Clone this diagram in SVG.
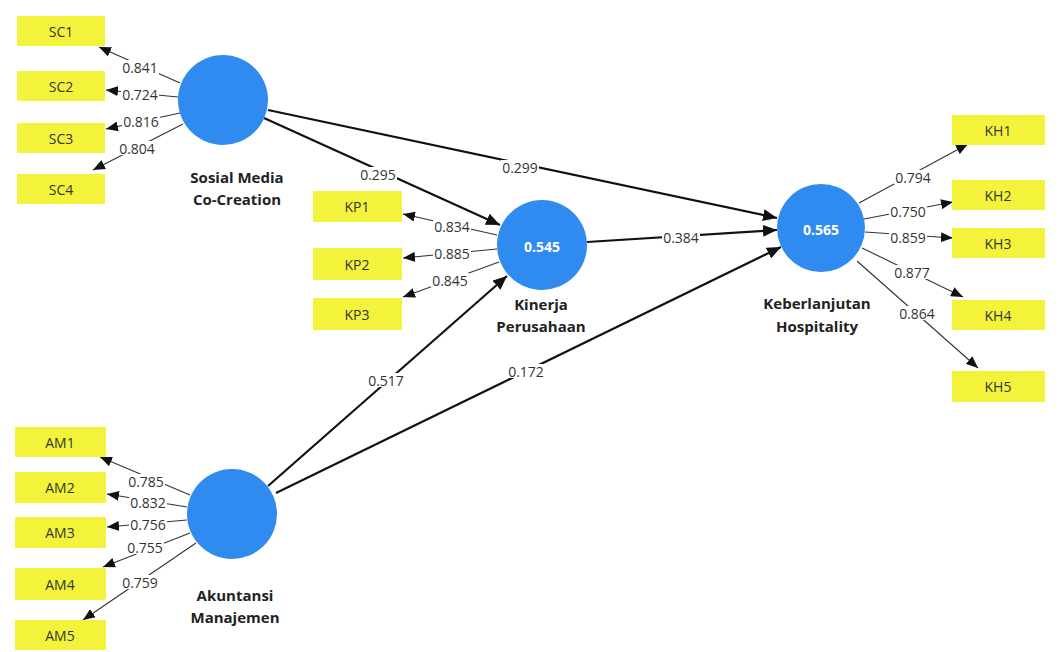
<svg xmlns="http://www.w3.org/2000/svg" width="1061" height="652" viewBox="0 0 1061 652">
<defs>
<marker id="ah" viewBox="0 0 12 10" refX="12" refY="5" markerWidth="12" markerHeight="10" markerUnits="userSpaceOnUse" orient="auto"><path d="M0,0 L12,5 L0,10 z" fill="#111"/></marker>
<marker id="ahb" viewBox="0 0 14 12" refX="14" refY="6" markerWidth="14" markerHeight="12" markerUnits="userSpaceOnUse" orient="auto"><path d="M0,0 L14,6 L0,12 z" fill="#111"/></marker>
<style>
.ind rect{fill:#F3F33C}
.ind text{font-family:"Open Sans","Noto Sans",sans-serif;font-size:14px;fill:#333;text-anchor:middle;dominant-baseline:central}
.lv circle{fill:#2F8BF0}
.lv .name{font-family:"Open Sans","Noto Sans",sans-serif;font-size:15px;font-weight:bold;fill:#222;text-anchor:middle}
.lv .r2{font-family:"Open Sans","Noto Sans",sans-serif;font-size:14px;font-weight:bold;fill:#fff;text-anchor:middle;dominant-baseline:central}
.ld{stroke:#333;stroke-width:1.1;fill:none;marker-end:url(#ah)}
.pt{stroke:#111;stroke-width:2.2;fill:none;marker-end:url(#ahb)}
.bg{fill:#fff}
.lb{font-family:"Open Sans","Noto Sans",sans-serif;font-size:14px;fill:#333;text-anchor:middle;dominant-baseline:central}
</style>
</defs>
<rect width="1061" height="652" fill="#fff"/>
<g id="connectors">
<line class="ld" x1="180" y1="83" x2="99" y2="47"/>
<line class="ld" x1="178" y1="97" x2="106" y2="90"/>
<line class="ld" x1="180" y1="113" x2="106" y2="129"/>
<line class="ld" x1="183" y1="124" x2="93" y2="170"/>
<line class="ld" x1="497" y1="235" x2="403" y2="214"/>
<line class="ld" x1="497" y1="249" x2="403" y2="258"/>
<line class="ld" x1="499" y1="262" x2="403" y2="297"/>
<line class="ld" x1="859" y1="203" x2="968" y2="144"/>
<line class="ld" x1="864" y1="219" x2="953" y2="202"/>
<line class="ld" x1="865" y1="232" x2="953" y2="238"/>
<line class="ld" x1="862" y1="248" x2="963" y2="297"/>
<line class="ld" x1="857" y1="261" x2="978" y2="368"/>
<line class="ld" x1="190" y1="495" x2="100" y2="457"/>
<line class="ld" x1="187" y1="507" x2="107" y2="494"/>
<line class="ld" x1="187" y1="520" x2="107" y2="527"/>
<line class="ld" x1="190" y1="533" x2="103" y2="567"/>
<line class="ld" x1="196" y1="543" x2="83" y2="620"/>
<line class="pt" x1="264" y1="118" x2="500" y2="225"/>
<line class="pt" x1="268" y1="110" x2="777" y2="218"/>
<line class="pt" x1="587" y1="242" x2="777" y2="230"/>
<line class="pt" x1="268" y1="486" x2="507" y2="276"/>
<line class="pt" x1="276" y1="493" x2="781" y2="247"/>
<rect class="bg" x="121" y="60" width="38" height="14"/><text class="lb" x="140" y="67">0.841</text>
<rect class="bg" x="121" y="87" width="38" height="14"/><text class="lb" x="140" y="94">0.724</text>
<rect class="bg" x="122" y="114" width="38" height="14"/><text class="lb" x="141" y="121">0.816</text>
<rect class="bg" x="118" y="141" width="38" height="14"/><text class="lb" x="137" y="148">0.804</text>
<rect class="bg" x="433" y="219" width="38" height="14"/><text class="lb" x="452" y="226">0.834</text>
<rect class="bg" x="433" y="246" width="38" height="14"/><text class="lb" x="452" y="253">0.885</text>
<rect class="bg" x="431" y="273" width="38" height="14"/><text class="lb" x="450" y="280">0.845</text>
<rect class="bg" x="894" y="170" width="38" height="14"/><text class="lb" x="913" y="177">0.794</text>
<rect class="bg" x="889" y="204" width="38" height="14"/><text class="lb" x="908" y="211">0.750</text>
<rect class="bg" x="889" y="230" width="38" height="14"/><text class="lb" x="908" y="237">0.859</text>
<rect class="bg" x="893" y="265" width="38" height="14"/><text class="lb" x="912" y="272">0.877</text>
<rect class="bg" x="898" y="306" width="38" height="14"/><text class="lb" x="917" y="313">0.864</text>
<rect class="bg" x="127" y="474" width="38" height="14"/><text class="lb" x="146" y="481">0.785</text>
<rect class="bg" x="129" y="495" width="38" height="14"/><text class="lb" x="148" y="502">0.832</text>
<rect class="bg" x="129" y="517" width="38" height="14"/><text class="lb" x="148" y="524">0.756</text>
<rect class="bg" x="126" y="540" width="38" height="14"/><text class="lb" x="145" y="547">0.755</text>
<rect class="bg" x="121" y="575" width="38" height="14"/><text class="lb" x="140" y="582">0.759</text>
<rect class="bg" x="359" y="167" width="38" height="14"/><text class="lb" x="378" y="174">0.295</text>
<rect class="bg" x="501" y="160" width="38" height="14"/><text class="lb" x="520" y="167">0.299</text>
<rect class="bg" x="662" y="230" width="38" height="14"/><text class="lb" x="681" y="237">0.384</text>
<rect class="bg" x="367" y="373" width="38" height="14"/><text class="lb" x="386" y="380">0.517</text>
<rect class="bg" x="507" y="364" width="38" height="14"/><text class="lb" x="526" y="371">0.172</text>
</g>
<g id="SC1" class="ind"><rect x="17" y="16" width="88" height="30"/><text x="61" y="31">SC1</text></g>
<g id="SC2" class="ind"><rect x="17" y="71" width="88" height="30"/><text x="61" y="86">SC2</text></g>
<g id="SC3" class="ind"><rect x="17" y="123" width="88" height="30"/><text x="61" y="138">SC3</text></g>
<g id="SC4" class="ind"><rect x="17" y="174" width="88" height="30"/><text x="61" y="189">SC4</text></g>
<g id="KP1" class="ind"><rect x="313" y="191" width="89" height="31"/><text x="357" y="206">KP1</text></g>
<g id="KP2" class="ind"><rect x="313" y="248" width="89" height="32"/><text x="357" y="264">KP2</text></g>
<g id="KP3" class="ind"><rect x="313" y="298" width="89" height="32"/><text x="357" y="314">KP3</text></g>
<g id="KH1" class="ind"><rect x="952" y="115" width="93" height="30"/><text x="998" y="130">KH1</text></g>
<g id="KH2" class="ind"><rect x="952" y="180" width="93" height="30"/><text x="998" y="195">KH2</text></g>
<g id="KH3" class="ind"><rect x="952" y="228" width="93" height="30"/><text x="998" y="243">KH3</text></g>
<g id="KH4" class="ind"><rect x="952" y="300" width="93" height="30"/><text x="998" y="315">KH4</text></g>
<g id="KH5" class="ind"><rect x="952" y="371" width="93" height="31"/><text x="998" y="386">KH5</text></g>
<g id="AM1" class="ind"><rect x="15" y="427" width="91" height="30"/><text x="60" y="442">AM1</text></g>
<g id="AM2" class="ind"><rect x="15" y="472" width="91" height="31"/><text x="60" y="487">AM2</text></g>
<g id="AM3" class="ind"><rect x="15" y="517" width="91" height="31"/><text x="60" y="532">AM3</text></g>
<g id="AM4" class="ind"><rect x="15" y="568" width="91" height="32"/><text x="60" y="584">AM4</text></g>
<g id="AM5" class="ind"><rect x="15" y="620" width="91" height="30"/><text x="60" y="635">AM5</text></g>
<g id="SMC" class="lv"><circle cx="223" cy="100" r="45"/><text class="name" x="237" y="183">Sosial Media</text><text class="name" x="237" y="205">Co-Creation</text></g>
<g id="KPe" class="lv"><circle cx="542" cy="245" r="45"/><text class="r2" x="542" y="246">0.545</text><text class="name" x="541" y="310">Kinerja</text><text class="name" x="541" y="332">Perusahaan</text></g>
<g id="KHo" class="lv"><circle cx="821" cy="228" r="44"/><text class="r2" x="821" y="229">0.565</text><text class="name" x="817" y="309">Keberlanjutan</text><text class="name" x="817" y="332">Hospitality</text></g>
<g id="AMa" class="lv"><circle cx="232" cy="514" r="45"/><text class="name" x="235" y="601">Akuntansi</text><text class="name" x="235" y="623">Manajemen</text></g>
</svg>
